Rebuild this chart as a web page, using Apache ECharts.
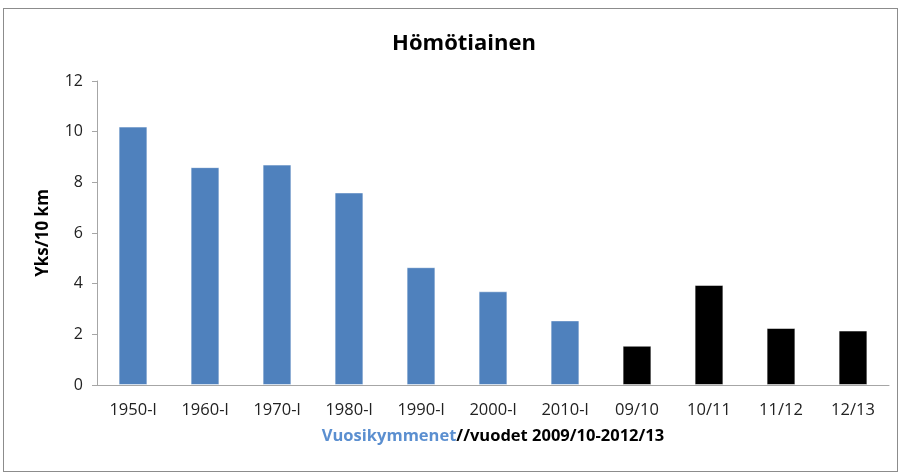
<!DOCTYPE html>
<html>
<head>
<meta charset="utf-8">
<style>
  html, body { margin: 0; padding: 0; background: #fff; }
  #frame { position: absolute; left: 3px; top: 8px; width: 895px; height: 464px; border: 1px solid #8c8c8c; box-sizing: border-box; }
  #chart { position: absolute; left: 0; top: 0; width: 903px; height: 475px; }
</style>
<script src="https://cdn.jsdelivr.net/npm/echarts@6/dist/echarts.min.js"></script>
</head>
<body>
<div id="frame"></div>
<div id="chart"></div>
<script>
var categories = ['1950-l', '1960-l', '1970-l', '1980-l', '1990-l', '2000-l', '2010-l', '09/10', '10/11', '11/12', '12/13'];
var values = [10.2, 8.6, 8.7, 7.6, 4.65, 3.7, 2.55, 1.55, 3.95, 2.25, 2.15];
var yTicks = [0, 2, 4, 6, 8, 10, 12];

var decadeColor = '#4f81bd';
var yearColor = '#000000';

var chart = echarts.init(document.getElementById('chart'));

var font = '"Open Sans", "Noto Sans", sans-serif';

var option = {
    animation: false,
    backgroundColor: 'transparent',
    title: {
        text: 'Hömötiainen',
        left: 459,
        top: 28,
        textAlign: 'center',
        textStyle: { fontFamily: font, fontSize: 22, fontWeight: 'bold', color: '#000' }
    },
    grid: { left: 97, right: 14, top: 81, bottom: 90 },
    xAxis: {
        type: 'category',
        data: categories,
        name: '{a|Vuosikymmenet}{b|//vuodet 2009/10-2012/13}',
        nameLocation: 'middle',
        nameGap: 43,
        nameTextStyle: {
            rich: {
                a: { fontFamily: font, fontSize: 16.5, fontWeight: 'bold', color: '#5b8fd0' },
                b: { fontFamily: font, fontSize: 16.5, fontWeight: 'bold', color: '#000' }
            }
        },
        axisLine: { lineStyle: { color: '#a6a6a6' } },
        axisTick: { alignWithLabel: false, length: 6, lineStyle: { color: '#a6a6a6' } },
        axisLabel: { fontFamily: font, fontSize: 16.5, color: '#222', margin: 17 }
    },
    yAxis: {
        type: 'value',
        min: yTicks[0],
        max: yTicks[yTicks.length - 1],
        interval: 2,
        name: 'Yks/10 km',
        nameLocation: 'middle',
        nameGap: 45,
        nameTextStyle: { fontFamily: font, fontSize: 17, fontWeight: 'bold', color: '#000' },
        axisLine: { show: true, lineStyle: { color: '#a6a6a6' } },
        axisTick: { show: true, length: 5, lineStyle: { color: '#a6a6a6' } },
        splitLine: { show: false },
        axisLabel: { fontFamily: font, fontSize: 16, color: '#222', margin: 14 }
    },
    series: [{
        type: 'bar',
        data: values,
        barWidth: '40%',
        itemStyle: {
            color: function (p) {
                return categories[p.dataIndex].indexOf('/') >= 0 ? yearColor : decadeColor;
            },
            borderColor: 'rgba(255,255,255,0.5)',
            borderWidth: 1
        }
    }]
};

chart.setOption(option);
</script>
</body>
</html>
